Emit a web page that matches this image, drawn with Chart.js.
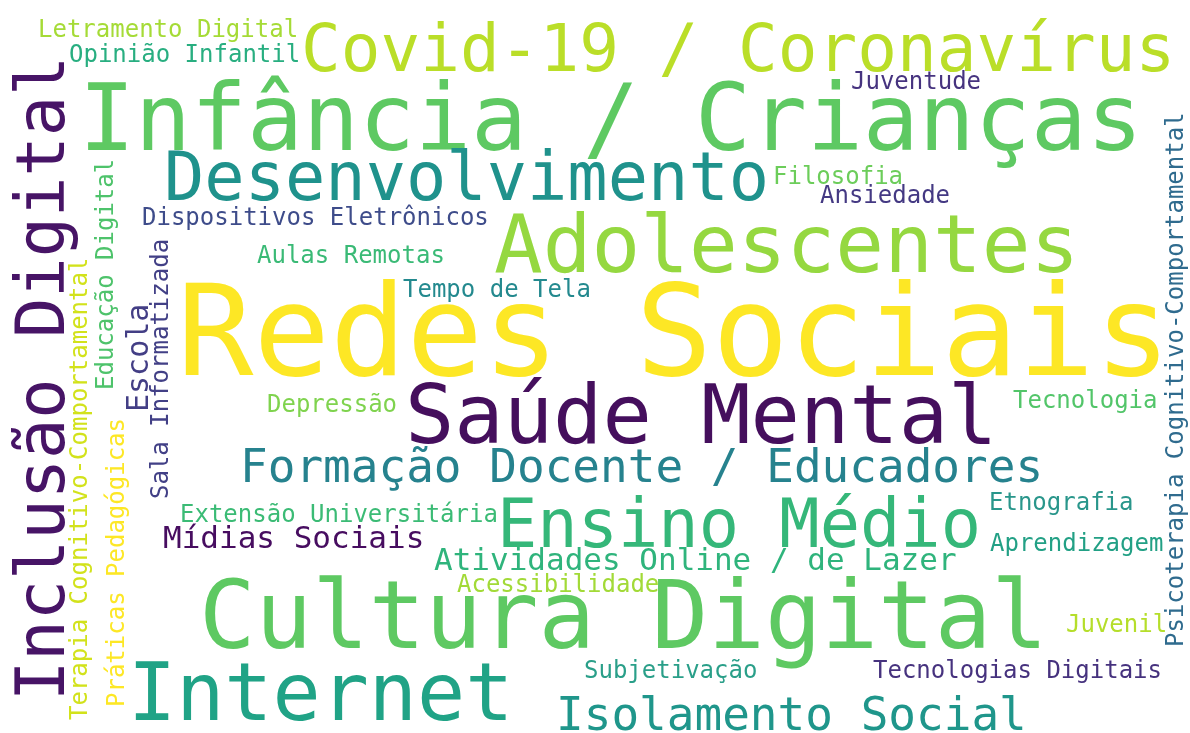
<!DOCTYPE html>
<html>
<head>
<meta charset="utf-8">
<script src="https://cdn.jsdelivr.net/npm/chart.js@4.4.1/dist/chart.umd.min.js"></script>
<style>
    html, body { margin: 0; padding: 0; background: #ffffff; }
    #wrap { width: 1190px; height: 733px; position: relative; }
</style>
</head>
<body>
<div id="wrap"><canvas id="cloudChart"></canvas></div>
<script>
// ==================== DATA ====================
const words = [
    'Redes Sociais', 'Infância / Crianças', 'Cultura Digital', 'Adolescentes', 'Saúde Mental',
    'Internet', 'Inclusão Digital', 'Desenvolvimento', 'Ensino Médio', 'Covid-19 / Coronavírus',
    'Formação Docente / Educadores', 'Isolamento Social', 'Mídias Sociais', 'Atividades Online / de Lazer', 'Escola',
    'Extensão Universitária', 'Acessibilidade', 'Depressão', 'Tecnologia', 'Etnografia',
    'Aprendizagem', 'Juvenil', 'Tecnologias Digitais', 'Subjetivação', 'Tempo de Tela',
    'Aulas Remotas', 'Dispositivos Eletrônicos', 'Filosofia', 'Ansiedade', 'Juventude',
    'Letramento Digital', 'Opinião Infantil', 'Terapia Cognitivo-Comportamental', 'Práticas Pedagógicas', 'Educação Digital',
    'Sala Informatizada', 'Psicoterapia Cognitivo-Comportamental'
];

// relative weight of each term (font size of the word)
const weights = [
    127, 93, 94, 81, 82,
    80, 67, 67, 67, 66,
    46, 46, 31, 31, 30,
    24, 24, 24, 24, 24,
    24, 24, 24, 24, 24,
    24, 24, 24, 24, 24,
    24, 24, 24, 24, 24,
    24, 24
];

// where each word lands in the cloud (cloud units, origin top-left)
const posX = [
    185, 88, 205, 495, 410,
    135, 64, 168, 503, 305,
    245, 560, 164, 434, 148,
    182, 457, 268, 1013, 991,
    990, 1067, 873, 585, 403,
    257, 143, 775, 820, 852,
    40, 70, 87, 124, 113,
    168, 1183
];
const posY = [
    375, 150, 648, 272, 443,
    720, 695, 200, 547, 71,
    482, 730, 548, 570, 410,
    522, 592, 412, 408, 510,
    551, 632, 678, 678, 297,
    263, 225, 184, 203, 89,
    37, 62, 720, 705, 388,
    498, 645
];

// 1 = written bottom-to-top
const vertical = [
    0, 0, 0, 0, 0,
    0, 1, 0, 0, 0,
    0, 0, 0, 0, 1,
    0, 0, 0, 0, 0,
    0, 0, 0, 0, 0,
    0, 0, 0, 0, 0,
    0, 0, 1, 1, 1,
    1, 1
];

const colors = [
    '#fde725', '#5ec962', '#5ec962', '#95d840', '#450f5d',
    '#20a386', '#471466', '#1f928c', '#35b779', '#bade28',
    '#26828e', '#1f968b', '#470d60', '#2fb47c', '#433e85',
    '#3bbb75', '#a2da37', '#7fd34e', '#52c569', '#29968b',
    '#22a085', '#b5de2b', '#46327e', '#2a9f89', '#23898e',
    '#3aba76', '#3e4c8a', '#6ccd5a', '#443983', '#46337f',
    '#a5db36', '#28ae80', '#d2e21b', '#fde725', '#4ec36b',
    '#424086', '#2f6b8e'
];

const FONT = '"DejaVu Sans Mono", monospace';

// ==================== WORD PLUGIN ====================
const wordPlugin = {
    id: 'wordPlugin',
    afterDatasetsDraw(chart) {
        const ctx = chart.ctx;
        const meta = chart.getDatasetMeta(0);
        meta.data.forEach((pt, i) => {
            ctx.save();
            ctx.font = weights[i] + 'px ' + FONT;
            ctx.fillStyle = colors[i];
            ctx.textAlign = 'left';
            ctx.textBaseline = 'alphabetic';
            const m = ctx.measureText(words[i]);
            ctx.translate(pt.x, pt.y);
            if (vertical[i]) ctx.rotate(-Math.PI / 2);
            ctx.fillText(words[i], m.actualBoundingBoxLeft, 0);
            ctx.restore();
        });
    }
};

// ==================== CHART ====================
const cloudCtx = document.getElementById('cloudChart').getContext('2d');
const cloudChart = new Chart(cloudCtx, {
    type: 'scatter',
    data: {
        datasets: [{
            label: 'Termos',
            data: words.map((w, i) => ({ x: posX[i], y: posY[i] })),
            pointRadius: 0,
            pointHoverRadius: 0
        }]
    },
    options: {
        responsive: true,
        maintainAspectRatio: false,
        animation: false,
        layout: { padding: 0 },
        plugins: {
            legend: { display: false },
            tooltip: { enabled: false }
        },
        scales: {
            x: { type: 'linear', min: 0, max: 1190, display: false },
            y: { type: 'linear', min: 0, max: 733, reverse: true, display: false }
        }
    },
    plugins: [wordPlugin]
});
</script>
</body>
</html>
